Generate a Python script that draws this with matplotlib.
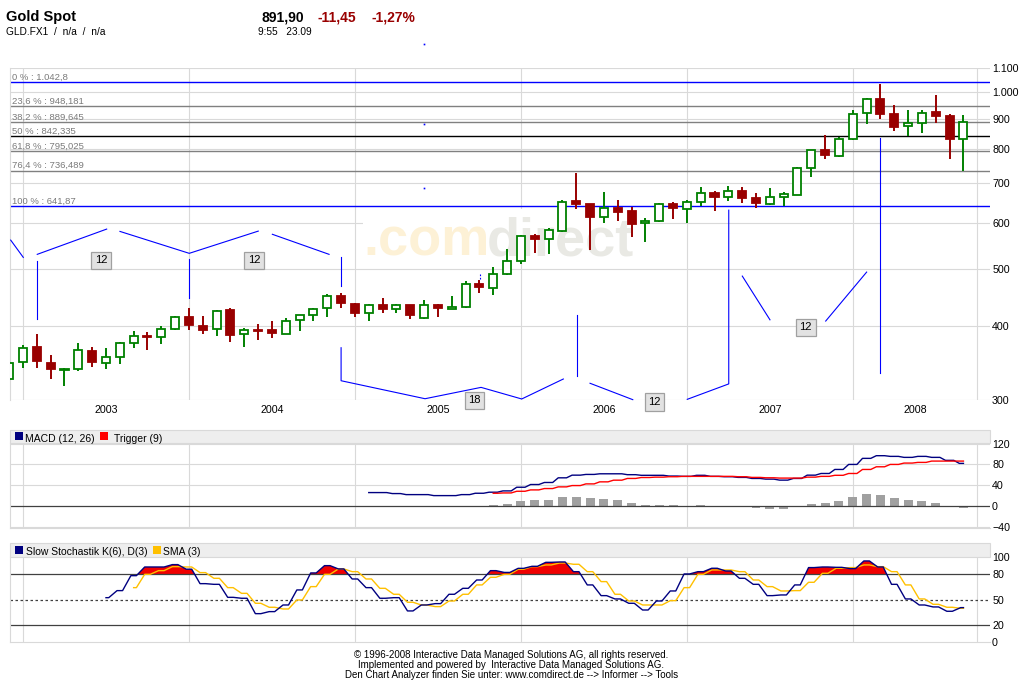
import numpy as np
import matplotlib
matplotlib.use("Agg")
import matplotlib.pyplot as plt
from matplotlib.patches import Rectangle
from matplotlib.ticker import FixedLocator, NullLocator, FixedFormatter

plt.rcParams['font.family'] = ['Liberation Sans', 'DejaVu Sans']

W, H = 1024, 681

# ---------------- data ----------------
# month index: 0 = Jan 2003, -1 = Dec 2002 ... 68 = Sep 2008
month_idx = list(range(-1, 69))
opens = [325.3, 347.7, 369.1, 346.7, 336.9, 339.2, 363.3, 346.3, 354.5, 374.5,
         385.3, 383.4, 396.5, 414.5, 400.7, 395.6, 426.0, 387.8, 393.9, 394.5,
         388.9, 409.7, 417.8, 429.4, 450.6, 436.7, 421.1, 435.1, 427.8, 435.1,
         414.0, 435.1, 428.8, 431.1, 472.2, 464.4, 491.0, 516.3, 569.0, 562.4,
         581.7, 653.3, 645.6, 613.1, 635.7, 628.3, 598.7, 604.4, 645.6, 634.4,
         651.6, 674.1, 662.9, 679.5, 661.1, 646.2, 664.5, 669.7, 742.5, 798.5,
         780.0, 831.7, 924.0, 973.6, 917.8, 875.4, 885.8, 925.2, 910.0, 831.7]
highs = [353.1, 371.5, 388.3, 357.3, 339.7, 374.5, 368.7, 367.2, 376.3, 392.4,
         390.9, 400.2, 416.7, 429.9, 416.7, 427.0, 429.9, 397.2, 403.8, 408.0,
         412.9, 418.5, 429.9, 454.1, 456.3, 438.4, 436.7, 447.1, 436.7, 435.6,
         443.6, 436.7, 450.6, 477.1, 479.7, 504.1, 540.9, 571.9, 574.1, 588.5,
         655.1, 728.1, 646.0, 676.1, 655.9, 638.2, 611.4, 648.2, 650.8, 655.4,
         690.9, 679.5, 693.1, 689.3, 673.3, 687.4, 676.0, 746.3, 798.5, 845.8,
         838.3, 935.1, 978.5, 1032.4, 950.9, 935.1, 935.1, 989.2, 917.8, 914.5]
lows = [321.0, 340.4, 340.4, 325.3, 317.3, 336.4, 341.8, 339.2, 345.0, 368.1,
        365.2, 373.9, 395.0, 395.0, 388.7, 385.7, 376.8, 369.5, 379.8, 383.0,
        388.3, 392.9, 408.0, 415.6, 430.4, 415.6, 409.0, 422.1, 421.1, 412.3,
        412.3, 415.6, 428.5, 429.9, 456.3, 452.9, 488.5, 511.1, 533.7, 531.6,
        579.4, 633.9, 540.0, 600.1, 604.1, 568.2, 557.0, 602.9, 609.4, 600.1,
        641.4, 629.0, 654.1, 649.0, 635.7, 644.7, 640.6, 669.0, 718.5, 771.0,
        775.2, 831.0, 881.8, 900.3, 860.1, 842.5, 853.4, 888.7, 771.0, 734.6]
closes = [346.3, 367.2, 349.9, 338.4, 338.7, 364.3, 347.7, 354.5, 374.5, 384.8,
          383.8, 396.5, 414.5, 402.7, 395.0, 425.3, 387.2, 393.9, 393.4, 390.3,
          408.0, 417.8, 427.8, 450.0, 438.9, 422.1, 434.5, 428.8, 434.5, 417.8,
          434.5, 430.4, 431.6, 472.2, 466.2, 490.4, 516.3, 569.0, 563.8, 582.6,
          652.0, 646.2, 614.3, 634.9, 626.5, 597.8, 605.6, 645.0, 637.0, 650.0,
          673.3, 664.5, 679.5, 661.9, 649.0, 663.7, 670.7, 742.5, 797.6, 783.0,
          831.7, 920.3, 973.6, 918.9, 874.0, 885.8, 924.0, 911.9, 833.7, 891.9]

year_starts = [0, 12, 24, 36, 48, 60]
year_labels = ['2003', '2004', '2005', '2006', '2007', '2008']
data_end = 69
price_ticks = [300, 400, 500, 600, 700, 800, 900, 1000, 1100]

fib_high = 1042.8
fib_low = 641.87
fib_ratios = [0.0, 0.236, 0.382, 0.5, 0.618, 0.764, 1.0]

macd_idx = list(range(25, 69))
macd = [26.3, 26.3, 24.4, 22.4, 22.4, 20.5, 20.5, 22.4, 25.0, 27.0,
        29.5, 36.5, 41.7, 45.6, 54.5, 59.6, 61.0, 62.2, 62.2, 60.5,
        59.3, 59.3, 57.9, 57.3, 59.3, 57.3, 56.6, 55.3, 53.3, 52.0,
        50.1, 53.3, 59.6, 62.8, 70.5, 80.1, 91.7, 96.8, 95.5, 93.6,
        95.5, 93.6, 87.9, 82.1]
trig_idx = list(range(34, 69))
trigger = [25.0, 25.6, 28.8, 31.4, 34.0, 37.2, 39.7, 42.9, 46.8, 50.0,
           53.3, 55.1, 55.8, 56.6, 57.3, 57.3, 57.3, 57.3, 56.6, 55.3,
           54.6, 54.0, 54.0, 55.8, 57.3, 59.3, 62.8, 70.5, 75.6, 80.1,
           82.7, 84.0, 86.5, 86.5, 86.5]
hist = [1.9, 3.8, 9.6, 11.5, 11.5, 17.3, 17.3, 15.4, 13.5, 11.5,
        5.8, 1.9, 1.9, 1.9, 0.0, 1.9, 0.0, 0.0, 0.0, -3.0,
        -5.8, -5.8, 0.0, 3.8, 5.8, 9.6, 17.3, 23.1, 21.2, 15.4,
        11.5, 9.6, 5.8, 0.0, -3.0]

k_idx = list(range(6, 69))
stoch_k = [52.5, 60.8, 78.4, 88.6, 88.6, 91.4, 86.0, 69.0, 68.2, 52.9,
           51.8, 33.7, 36.1, 43.9, 61.6, 81.6, 90.2, 86.3, 74.5, 64.3,
           51.8, 52.5, 36.9, 43.9, 45.5, 56.5, 63.5, 73.3, 84.3, 82.2,
           87.0, 89.4, 94.1, 94.5, 83.1, 67.5, 54.9, 51.0, 45.9, 38.0,
           48.6, 60.4, 80.4, 83.1, 87.1, 83.9, 75.3, 68.2, 54.9, 55.7,
           67.5, 87.9, 88.6, 88.2, 86.7, 95.7, 88.6, 68.2, 51.0, 43.9,
           41.6, 36.5, 40.8]
d_idx = list(range(8, 69))
stoch_d = [64.3, 80.0, 84.3, 89.0, 88.6, 82.0, 75.3, 64.3, 57.6, 45.9,
           41.2, 39.2, 49.8, 65.5, 80.0, 86.3, 83.1, 74.5, 63.5, 56.5,
           47.1, 43.9, 42.0, 48.6, 56.5, 67.5, 76.5, 80.0, 85.9, 89.0,
           91.0, 93.3, 91.8, 83.1, 71.4, 56.5, 48.6, 43.9, 43.9, 49.0,
           64.3, 80.0, 85.1, 85.1, 83.1, 73.3, 65.5, 60.4, 60.8, 70.6,
           81.2, 87.1, 87.9, 91.0, 89.0, 83.1, 67.5, 51.0, 44.7, 41.2,
           40.0]

# cycle-analyser annotations: paths of (month index, price)
cycle_paths = [
    [(-0.89, 560.9), (0.02, 524.2)],
    [(1.03, 530.5), (6.05, 585.6)],
    [(7.01, 580.3), (12.02, 532.6), (17.01, 581.0)],
    [(18.03, 573.8), (22.13, 530.5)],
    [(1.03, 516.7), (1.03, 412.3)],
    [(12.02, 520.7), (12.02, 447.6)],
    [(23.0, 524.2), (23.0, 469.1)],
    [(23.0, 368.1), (23.0, 323.5), (29.07, 301.5), (33.12, 315.2),
     (36.06, 301.2), (39.07, 325.7)],
    [(40.06, 417.8), (40.06, 328.9)],
    [(41.0, 320.3), (44.09, 300.4)],
    [(48.03, 300.8), (51.03, 319.5), (51.03, 630.7)],
    [(52.01, 487.2), (54.01, 410.6)],
    [(58.04, 408.6), (61.0, 494.9)],
    [(61.99, 834.9), (61.99, 333.0)],
]
cycle_labels = [(5.64, 518.7, '12'), (16.7, 518.7, '12'), (32.66, 299.6, '18'),
                (45.65, 297.7, '12'), (56.6, 398.7, '12')]
cycle_dots = [(29.02, 1207.0), (29.02, 882.7), (29.02, 686.6)]
cycle_dash = [(33.07, 482.0), (33.07, 492.0)]

# ---------------- style ----------------
GREEN = '#008000'
RED = '#990000'
GRID = '#d9d9d9'
DARK = '#404040'
BLUE = '#0000ff'
NAVY = '#000080'
TRIG = '#ff0000'
SMA = '#ffc000'
XLIM = (-0.94, 69.92)
TICK_FS = 7.7


def fig_rect(l, t, r, b):
    return [l / W, 1 - b / H, (r - l) / W, (b - t) / H]


def de_num(v):
    s = f"{v:.3f}".rstrip('0').rstrip('.')
    ip, _, fr = s.partition('.')
    ip = f"{int(ip):,}".replace(',', '.')
    return ip + (',' + fr if fr else '')


def stair(xs, ys, half=0.3):
    """Chart-engine style line: short flat run per period, slanted joins."""
    px, py = [], []
    n = len(xs)
    for i, (xv, yv) in enumerate(zip(xs, ys)):
        a = xv if i == 0 else xv - half
        b = xv if i == n - 1 else xv + half
        px += [a, b]
        py += [yv, yv]
    return np.array(px, float), np.array(py, float)


fig = plt.figure(figsize=(W / 100, H / 100), dpi=100)
fig.patch.set_facecolor('white')

ax = fig.add_axes(fig_rect(10, 68, 990, 400))
axm = fig.add_axes(fig_rect(10, 443.3, 990, 528.3))
axs = fig.add_axes(fig_rect(10, 557.3, 990, 642.3))

vgrid = year_starts + [data_end]

# ---------------- main price panel ----------------
ax.set_yscale('log')
for p in price_ticks:
    ax.axhline(p, color=GRID, lw=0.8, zorder=0.5)
for v in vgrid:
    ax.axvline(v, color=GRID, lw=0.8, zorder=0.5)

# watermark
ax.add_patch(Rectangle(((363 - 10) / 980, (400 - 263) / 332), (640 - 363) / 980, 54 / 332,
                       transform=ax.transAxes, facecolor='white', edgecolor='none', zorder=1))
ax.text((363 - 10) / 980, (400 - 255) / 332, '.com', transform=ax.transAxes,
        fontsize=39, fontweight='bold', color='#fdf1d6', va='baseline', ha='left', zorder=1.1)
ax.text((487 - 10) / 980, (400 - 255) / 332, 'direct', transform=ax.transAxes,
        fontsize=39, fontweight='bold', color='#e9e9e4', va='baseline', ha='left', zorder=1.1)

# fibonacci retracements
span = fib_high - fib_low
for r in fib_ratios:
    lvl = fib_high - r * span
    if r in (0.0, 1.0):
        col = BLUE
    elif r == 0.5:
        col = 'black'
    else:
        col = '#808080'
    ax.axhline(lvl, color=col, lw=1.0, zorder=2)
    pct = f"{r * 100:g}".replace('.', ',')
    ax.annotate(f"{pct} % : {de_num(lvl)}", xy=(0, lvl), xycoords=ax.get_yaxis_transform(),
                xytext=(1.3, 1.6), textcoords='offset points', fontsize=6.8,
                color='#7a7a7a', va='baseline', ha='left', zorder=2.5)

# candles
x = np.array(month_idx, float)
o = np.array(opens)
c = np.array(closes)
hi = np.array(highs)
lo = np.array(lows)
up = c >= o
dn = ~up
bot = np.minimum(o, c)
top = np.maximum(o, c)
hgt = np.maximum(top - bot, 0.3)
ax.vlines(x[up], lo[up], hi[up], color=GREEN, lw=1.4, zorder=3)
ax.vlines(x[dn], lo[dn], hi[dn], color=RED, lw=1.4, zorder=3)
ax.bar(x[up], hgt[up], bottom=bot[up], width=0.58, facecolor='white',
       edgecolor=GREEN, linewidth=1.3, zorder=4)
ax.bar(x[dn], hgt[dn], bottom=bot[dn], width=0.58, facecolor=RED,
       edgecolor=RED, linewidth=1.3, zorder=4)

# cycle annotations
for path in cycle_paths:
    px, py = zip(*path)
    ax.plot(px, py, color=BLUE, lw=0.8, zorder=5, clip_on=False)
dx, dy = zip(*cycle_dots)
ax.plot(dx, dy, 's', color=BLUE, ms=1.2, mew=0, zorder=5, clip_on=False)
sx, sy = zip(*cycle_dash)
ax.plot(sx, sy, color=BLUE, lw=0.8, ls=(0, (1.5, 1.5)), zorder=5)
for lx, ly, s in cycle_labels:
    ax.text(lx, ly, s, fontsize=8, ha='center', va='center', zorder=6, clip_on=False,
            bbox=dict(boxstyle='square,pad=0.32', fc='#e2e2e2', ec='#a0a0a0', lw=0.9))

ax.set_xlim(*XLIM)
ax.set_ylim(300, 1100)
ax.yaxis.set_major_locator(FixedLocator(price_ticks))
ax.yaxis.set_minor_locator(NullLocator())
ax.yaxis.set_major_formatter(FixedFormatter([f"{p:,}".replace(',', '.') for p in price_ticks]))
ax.yaxis.tick_right()
ends = year_starts[1:] + [data_end]
ax.set_xticks([(a + b) / 2 for a, b in zip(year_starts, ends)])
ax.set_xticklabels(year_labels)
ax.tick_params(axis='y', length=0, pad=1.5, labelsize=TICK_FS)
ax.tick_params(axis='x', length=0, pad=3.8, labelsize=TICK_FS)
for s in ('top', 'right', 'bottom'):
    ax.spines[s].set_visible(False)
ax.spines['left'].set_color(GRID)
ax.spines['left'].set_linewidth(0.8)

# ---------------- MACD panel ----------------
for v in vgrid:
    axm.axvline(v, color=GRID, lw=0.8, zorder=0.5)
for yv in (120, 80, 40, -40):
    axm.axhline(yv, color=GRID, lw=0.8, zorder=0.5)
axm.bar(trig_idx, hist, width=0.65, color='#a0a0a0', zorder=2)
axm.axhline(0, color=DARK, lw=0.9, zorder=2.5)
mx, my = stair(macd_idx, macd)
axm.plot(mx, my, color=NAVY, lw=1.0, zorder=3)
tx, ty = stair(trig_idx, trigger)
axm.plot(tx, ty, color=TRIG, lw=1.0, zorder=4)
axm.set_xlim(*XLIM)
axm.set_ylim(-42, 120.5)
axm.set_yticks([120, 80, 40, 0, -40])
axm.yaxis.tick_right()
axm.set_xticks([])
axm.tick_params(axis='y', length=0, pad=1.5, labelsize=TICK_FS)
for s in ('top', 'right'):
    axm.spines[s].set_visible(False)
for s in ('left', 'bottom'):
    axm.spines[s].set_color(GRID)
    axm.spines[s].set_linewidth(0.8)

# ---------------- Stochastic panel ----------------
for v in vgrid:
    axs.axvline(v, color=GRID, lw=0.8, zorder=0.5)
axs.axhline(80, color=DARK, lw=0.9, zorder=2.5)
axs.axhline(20, color=DARK, lw=0.9, zorder=2.5)
axs.axhline(50, color=DARK, lw=0.9, ls=(0, (2, 2)), zorder=2.5)
kx, kv = stair(k_idx, stoch_k, half=0.2)
axs.fill_between(kx, kv, 80, where=kv >= 80, interpolate=True, color='#f00000', lw=0, zorder=2)
dxs, dys = stair(d_idx, stoch_d, half=0.2)
axs.plot(dxs, dys, color=SMA, lw=1.0, zorder=3)
axs.plot(kx, kv, color=NAVY, lw=1.0, zorder=4)
axs.set_xlim(*XLIM)
axs.set_ylim(0, 100)
axs.set_yticks([100, 80, 50, 20, 0])
axs.yaxis.tick_right()
axs.set_xticks([])
axs.tick_params(axis='y', length=0, pad=1.5, labelsize=TICK_FS)
for s in ('top', 'right'):
    axs.spines[s].set_visible(False)
for s in ('left', 'bottom'):
    axs.spines[s].set_color(GRID)
    axs.spines[s].set_linewidth(0.8)

# ---------------- overlay: header, panel titles, footer ----------------
ov = fig.add_axes([0, 0, 1, 1])
ov.set_xlim(0, W)
ov.set_ylim(H, 0)
ov.axis('off')

ov.text(6, 21, 'Gold Spot', fontsize=10.5, fontweight='bold', va='baseline', ha='left')
ov.text(262, 21, '891,90', fontsize=10, fontweight='bold', va='baseline', ha='left')
ov.text(318, 21, '-11,45', fontsize=10, fontweight='bold', color='#990000', va='baseline', ha='left')
ov.text(372, 21, '-1,27%', fontsize=10, fontweight='bold', color='#990000', va='baseline', ha='left')
ov.text(6, 35, 'GLD.FX1  /  n/a  /  n/a', fontsize=7.3, va='baseline', ha='left')
ov.text(258, 35, '9:55   23.09', fontsize=7.3, va='baseline', ha='left')

ov.add_patch(Rectangle((10, 430), 980, 13.3, facecolor='#eeeeee', edgecolor=GRID, lw=0.8))
ov.add_patch(Rectangle((15, 432.3), 7.5, 7.5, facecolor=NAVY, edgecolor='none'))
ov.text(25.3, 441.5, 'MACD (12, 26)', fontsize=7.5, va='baseline', ha='left')
ov.add_patch(Rectangle((100, 432.3), 7.5, 7.5, facecolor=TRIG, edgecolor='none'))
ov.text(113.7, 441.5, 'Trigger (9)', fontsize=7.5, va='baseline', ha='left')

ov.add_patch(Rectangle((10, 543.3), 980, 14, facecolor='#eeeeee', edgecolor=GRID, lw=0.8))
ov.add_patch(Rectangle((15, 546), 7.5, 7.5, facecolor=NAVY, edgecolor='none'))
ov.text(25.7, 555.2, 'Slow Stochastik K(6), D(3)', fontsize=7.5, va='baseline', ha='left')
ov.add_patch(Rectangle((153, 546), 7.5, 7.5, facecolor=SMA, edgecolor='none'))
ov.text(162.7, 555.2, 'SMA (3)', fontsize=7.5, va='baseline', ha='left')

footer = ['\u00a9 1996-2008 Interactive Data Managed Solutions AG, all rights reserved.',
          'Implemented and powered by  Interactive Data Managed Solutions AG.',
          'Den Chart Analyzer finden Sie unter: www.comdirect.de --> Informer --> Tools']
for yb, line in zip((658.5, 668.3, 678.2), footer):
    ov.text(511.5, yb, line, fontsize=7, va='baseline', ha='center')

fig.savefig('out.png', dpi=100)
